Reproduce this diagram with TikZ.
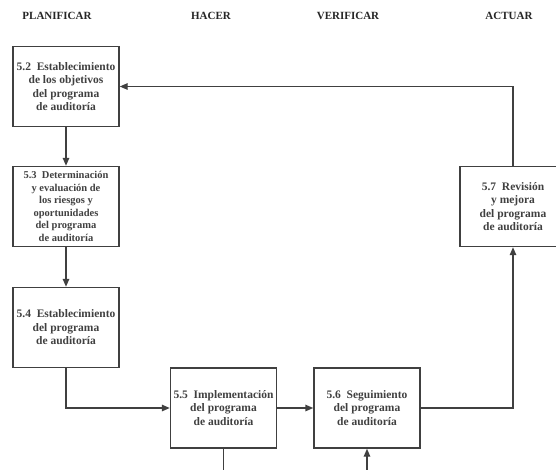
\documentclass[tikz,border=0pt]{standalone}
\usepackage{fontspec}
\setmainfont{Liberation Serif}
\usetikzlibrary{positioning, arrows.meta, calc}

\tikzset{
  etapa/.style={draw=black!75, line width=1.4pt, align=center, text=black!75,
    font=\bfseries\fontsize{11.5}{13.5}\selectfont, inner sep=1pt,
    minimum width=106pt, minimum height=80pt},
  flecha/.style={-{Triangle[length=8pt,width=6.5pt]}, line width=1.4pt, draw=black!75},
  linea/.style={line width=1.4pt, draw=black!75},
  fase/.style={font=\bfseries\fontsize{11}{12}\selectfont, text=black!85}
}

\begin{document}
\begin{tikzpicture}[x=1pt, y=-1pt]
  \useasboundingbox (0,0) rectangle (556,469);
  \clip (0,0) rectangle (556,469);

  % Fases
  \node[fase] (plan) at (57,16) {PLANIFICAR};
  \node[fase] (hacer) at (211,16) {HACER};
  \node[fase] (verif) at (348,16) {VERIFICAR};
  \node[fase] (actuar) at (509,16) {ACTUAR};

  % Etapas
  \node[etapa] (e52) at (66,86.5) {5.2\enspace Establecimiento\\de los objetivos\\del programa\\de auditoría};
  \node[etapa, font=\bfseries\fontsize{10.5}{12.6}\selectfont] (e53) at (66,206.5) {5.3\enspace Determinación\\y evaluación de\\los riesgos y\\oportunidades\\del programa\\de auditoría};
  \node[etapa] (e54) at (66,327.5) {5.4\enspace Establecimiento\\del programa\\de auditoría};
  \node[etapa] (e55) at (223.5,408) {5.5\enspace Implementación\\del programa\\de auditoría};
  \node[etapa] (e56) at (367,408) {5.6\enspace Seguimiento\\del programa\\de auditoría};
  \node[etapa] (e57) at (513,206.5) {5.7\enspace Revisión\\y mejora\\del programa\\de auditoría};

  % Salidas por abajo
  \coordinate (sal55) at (e55.south |- 0,475);
  \coordinate (ent56) at (e56.south |- 0,475);

  % Flechas
  \draw[flecha] (e52) -- (e53);
  \draw[flecha] (e53) -- (e54);
  \draw[flecha] (e54.south) |- (e55.west);
  \draw[flecha] (e55) -- (e56);
  \draw[flecha] (e56.east) -| (e57.south);
  \draw[flecha] (e57.north) |- (e52.east);
  \draw[linea] (e55.south) -- (sal55);
  \draw[flecha] (ent56) -- (e56.south);
\end{tikzpicture}
\end{document}
